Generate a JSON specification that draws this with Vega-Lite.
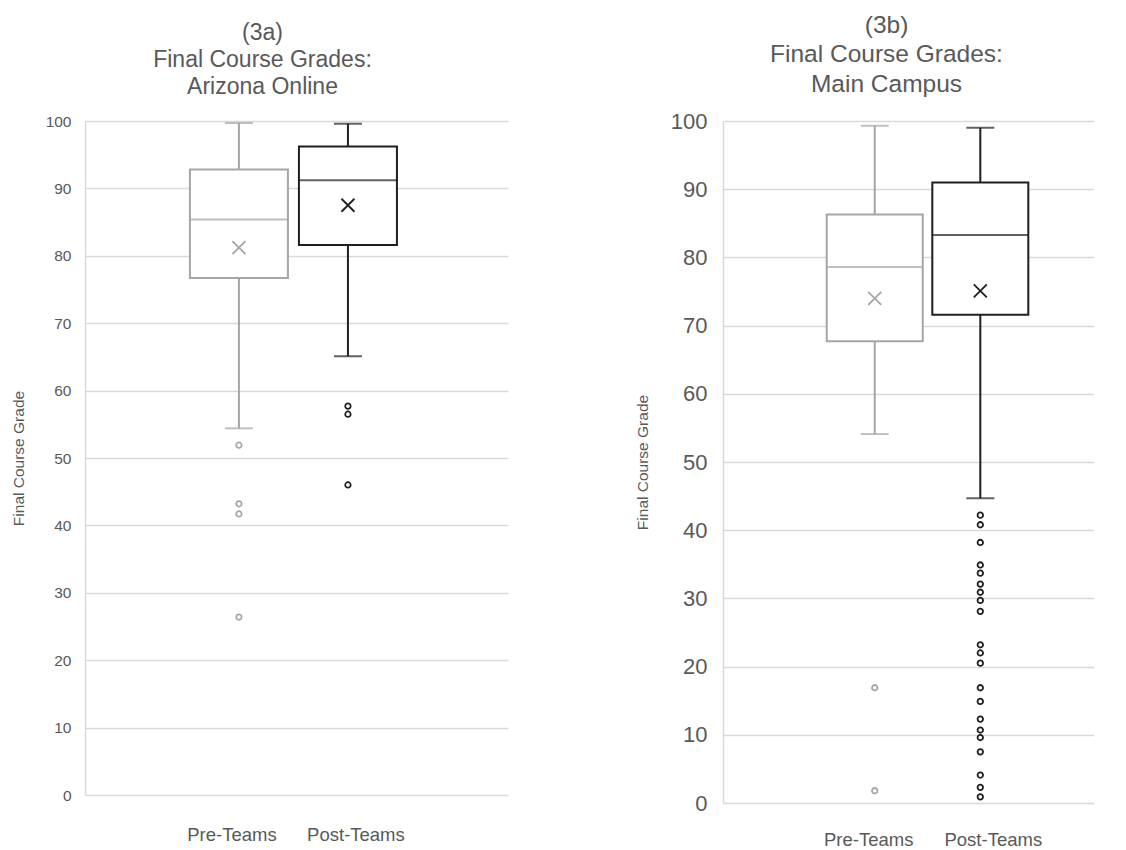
{
  "$schema": "https://vega.github.io/schema/vega-lite/v6.json",
  "background": "white",
  "padding": {"left": 11, "top": 12, "right": 0, "bottom": 0},
  "bounds": "flush",
  "spacing": 215,
  "config": {
    "view": {"stroke": null},
    "font": "Liberation Sans",
    "axis": {"labelFont": "Liberation Sans", "titleFont": "Liberation Sans"}
  },
  "datasets": {
    "statsA": [
      {"group": "Pre-Teams", "lower": 54.4, "q1": 76.7, "median": 85.4, "q3": 92.8, "upper": 99.7, "mean": 81.2},
      {"group": "Post-Teams", "lower": 65.1, "q1": 81.6, "median": 91.2, "q3": 96.2, "upper": 99.6, "mean": 87.5}
    ],
    "outA": [
      {"group": "Pre-Teams", "grade": 51.9},
      {"group": "Pre-Teams", "grade": 43.2},
      {"group": "Pre-Teams", "grade": 41.7},
      {"group": "Pre-Teams", "grade": 26.4},
      {"group": "Post-Teams", "grade": 57.7},
      {"group": "Post-Teams", "grade": 56.5},
      {"group": "Post-Teams", "grade": 46.0}
    ],
    "statsB": [
      {"group": "Pre-Teams", "lower": 54.1, "q1": 67.7, "median": 78.6, "q3": 86.3, "upper": 99.3, "mean": 74.0},
      {"group": "Post-Teams", "lower": 44.7, "q1": 71.6, "median": 83.3, "q3": 91.0, "upper": 99.0, "mean": 75.1}
    ],
    "outB": [
      {"group": "Pre-Teams", "grade": 16.9},
      {"group": "Pre-Teams", "grade": 1.8},
      {"group": "Post-Teams", "grade": 42.2},
      {"group": "Post-Teams", "grade": 40.8},
      {"group": "Post-Teams", "grade": 38.2},
      {"group": "Post-Teams", "grade": 34.9},
      {"group": "Post-Teams", "grade": 33.7},
      {"group": "Post-Teams", "grade": 32.1},
      {"group": "Post-Teams", "grade": 30.9},
      {"group": "Post-Teams", "grade": 29.7},
      {"group": "Post-Teams", "grade": 28.1},
      {"group": "Post-Teams", "grade": 23.2},
      {"group": "Post-Teams", "grade": 22.0},
      {"group": "Post-Teams", "grade": 20.5},
      {"group": "Post-Teams", "grade": 16.9},
      {"group": "Post-Teams", "grade": 14.9},
      {"group": "Post-Teams", "grade": 12.3},
      {"group": "Post-Teams", "grade": 10.7},
      {"group": "Post-Teams", "grade": 9.6},
      {"group": "Post-Teams", "grade": 7.5},
      {"group": "Post-Teams", "grade": 4.1},
      {"group": "Post-Teams", "grade": 2.3},
      {"group": "Post-Teams", "grade": 0.9}
    ]
  },
  "hconcat": [
    {
      "width": 423,
      "height": 674,
      "title": {"text": ["(3a)", "Final Course Grades:", "Arizona Online"], "fontSize": 23, "lineHeight": 27, "offset": -8, "dx": -34, "color": "#595959", "font": "Liberation Sans", "fontWeight": "normal", "anchor": "middle", "baseline": "bottom"},
      "encoding": {
        "x": {"field": "group", "type": "nominal", "title": null,
          "scale": {"type": "band", "domain": ["Pre-Teams", "Post-Teams"], "paddingInner": 0, "paddingOuter": 0.94, "align": 0.485},
          "axis": {"domain": false, "ticks": false, "grid": false, "labelAngle": 0, "labelFontSize": 18.5, "labelColor": "#595959", "labelPadding": 30,
            "labelOffset": {"condition": {"test": "datum.value == 'Pre-Teams'", "value": -7}, "value": 8}}}
      },
      "layer": [
        {
          "data": {"name": "statsA"},
          "mark": {"type": "rule", "strokeWidth": 2},
          "encoding": {
            "y": {"field": "lower", "type": "quantitative", "scale": {"domain": [0, 100], "nice": false},
              "axis": {"values": [0, 10, 20, 30, 40, 50, 60, 70, 80, 90, 100], "grid": true, "gridColor": "#d9d9d9", "gridWidth": 1.5, "domain": true, "domainColor": "#d9d9d9", "domainWidth": 1.5, "ticks": false, "labelFontSize": 15.5, "labelColor": "#595959", "labelPadding": 14,
                "title": "Final Course Grade", "titleFontSize": 15.5, "titleFontWeight": "normal", "titleColor": "#595959", "titleX": -67, "titleY": 337, "titleAngle": -90, "titleBaseline": "middle", "titleAlign": "center"}},
            "y2": {"field": "upper"},
            "color": {"field": "group", "type": "nominal", "scale": {"domain": ["Pre-Teams", "Post-Teams"], "range": ["#a5a5a5", "#1f1f1f"]}, "legend": null}
          }
        },
        {
          "data": {"name": "statsA"},
          "mark": {"type": "bar", "width": 98, "fill": "white", "strokeWidth": 2},
          "encoding": {
            "y": {"field": "q1", "type": "quantitative"},
            "y2": {"field": "q3"},
            "stroke": {"field": "group", "type": "nominal", "scale": {"domain": ["Pre-Teams", "Post-Teams"], "range": ["#a5a5a5", "#1f1f1f"]}, "legend": null}
          }
        },
        {
          "data": {"name": "statsA"},
          "mark": {"type": "tick", "size": 98, "thickness": 2},
          "encoding": {
            "y": {"field": "median", "type": "quantitative"},
            "color": {"field": "group", "type": "nominal", "legend": null}
          }
        },
        {
          "data": {"name": "statsA"},
          "mark": {"type": "tick", "size": 28, "thickness": 2},
          "encoding": {
            "y": {"field": "upper", "type": "quantitative"},
            "color": {"field": "group", "type": "nominal", "legend": null}
          }
        },
        {
          "data": {"name": "statsA"},
          "mark": {"type": "tick", "size": 28, "thickness": 2},
          "encoding": {
            "y": {"field": "lower", "type": "quantitative"},
            "color": {"field": "group", "type": "nominal", "legend": null}
          }
        },
        {
          "data": {"name": "statsA"},
          "mark": {"type": "point", "shape": "M-1,-1L1,1M-1,1L1,-1", "filled": false, "size": 169, "strokeWidth": 1.8, "opacity": 1},
          "encoding": {
            "y": {"field": "mean", "type": "quantitative"},
            "color": {"field": "group", "type": "nominal", "legend": null}
          }
        },
        {
          "data": {"name": "outA"},
          "mark": {"type": "point", "shape": "circle", "filled": false, "size": 30, "strokeWidth": 1.7, "opacity": 1},
          "encoding": {
            "y": {"field": "grade", "type": "quantitative"},
            "color": {"field": "group", "type": "nominal", "legend": null}
          }
        }
      ]
    },
    {
      "width": 371,
      "height": 682,
      "title": {"text": ["(3b)", "Final Course Grades:", "Main Campus"], "fontSize": 24.5, "lineHeight": 29.5, "offset": -11, "dx": -22, "color": "#595959", "font": "Liberation Sans", "fontWeight": "normal", "anchor": "middle", "baseline": "bottom"},
      "encoding": {
        "x": {"field": "group", "type": "nominal", "title": null,
          "scale": {"type": "band", "domain": ["Pre-Teams", "Post-Teams"], "paddingInner": 0, "paddingOuter": 0.757, "align": 0.619},
          "axis": {"domain": false, "ticks": false, "grid": false, "labelAngle": 0, "labelFontSize": 18.5, "labelColor": "#595959", "labelPadding": 27,
            "labelOffset": {"condition": {"test": "datum.value == 'Pre-Teams'", "value": -6}, "value": 13}}}
      },
      "layer": [
        {
          "data": {"name": "statsB"},
          "mark": {"type": "rule", "strokeWidth": 2},
          "encoding": {
            "y": {"field": "lower", "type": "quantitative", "scale": {"domain": [0, 100], "nice": false},
              "axis": {"values": [0, 10, 20, 30, 40, 50, 60, 70, 80, 90, 100], "grid": true, "gridColor": "#d9d9d9", "gridWidth": 1.5, "domain": true, "domainColor": "#d9d9d9", "domainWidth": 1.5, "ticks": false, "labelFontSize": 22, "labelColor": "#595959", "labelPadding": 16,
                "title": "Final Course Grade", "titleFontSize": 15.5, "titleFontWeight": "normal", "titleColor": "#595959", "titleX": -81, "titleY": 341, "titleAngle": -90, "titleBaseline": "middle", "titleAlign": "center"}},
            "y2": {"field": "upper"},
            "color": {"field": "group", "type": "nominal", "scale": {"domain": ["Pre-Teams", "Post-Teams"], "range": ["#a5a5a5", "#1f1f1f"]}, "legend": null}
          }
        },
        {
          "data": {"name": "statsB"},
          "mark": {"type": "bar", "width": 96, "fill": "white", "strokeWidth": 2},
          "encoding": {
            "y": {"field": "q1", "type": "quantitative"},
            "y2": {"field": "q3"},
            "stroke": {"field": "group", "type": "nominal", "scale": {"domain": ["Pre-Teams", "Post-Teams"], "range": ["#a5a5a5", "#1f1f1f"]}, "legend": null}
          }
        },
        {
          "data": {"name": "statsB"},
          "mark": {"type": "tick", "size": 96, "thickness": 2},
          "encoding": {
            "y": {"field": "median", "type": "quantitative"},
            "color": {"field": "group", "type": "nominal", "legend": null}
          }
        },
        {
          "data": {"name": "statsB"},
          "mark": {"type": "tick", "size": 28, "thickness": 2},
          "encoding": {
            "y": {"field": "upper", "type": "quantitative"},
            "color": {"field": "group", "type": "nominal", "legend": null}
          }
        },
        {
          "data": {"name": "statsB"},
          "mark": {"type": "tick", "size": 28, "thickness": 2},
          "encoding": {
            "y": {"field": "lower", "type": "quantitative"},
            "color": {"field": "group", "type": "nominal", "legend": null}
          }
        },
        {
          "data": {"name": "statsB"},
          "mark": {"type": "point", "shape": "M-1,-1L1,1M-1,1L1,-1", "filled": false, "size": 169, "strokeWidth": 1.8, "opacity": 1},
          "encoding": {
            "y": {"field": "mean", "type": "quantitative"},
            "color": {"field": "group", "type": "nominal", "legend": null}
          }
        },
        {
          "data": {"name": "outB"},
          "mark": {"type": "point", "shape": "circle", "filled": false, "size": 30, "strokeWidth": 1.8, "opacity": 1},
          "encoding": {
            "y": {"field": "grade", "type": "quantitative"},
            "color": {"field": "group", "type": "nominal", "legend": null}
          }
        }
      ]
    }
  ]
}
